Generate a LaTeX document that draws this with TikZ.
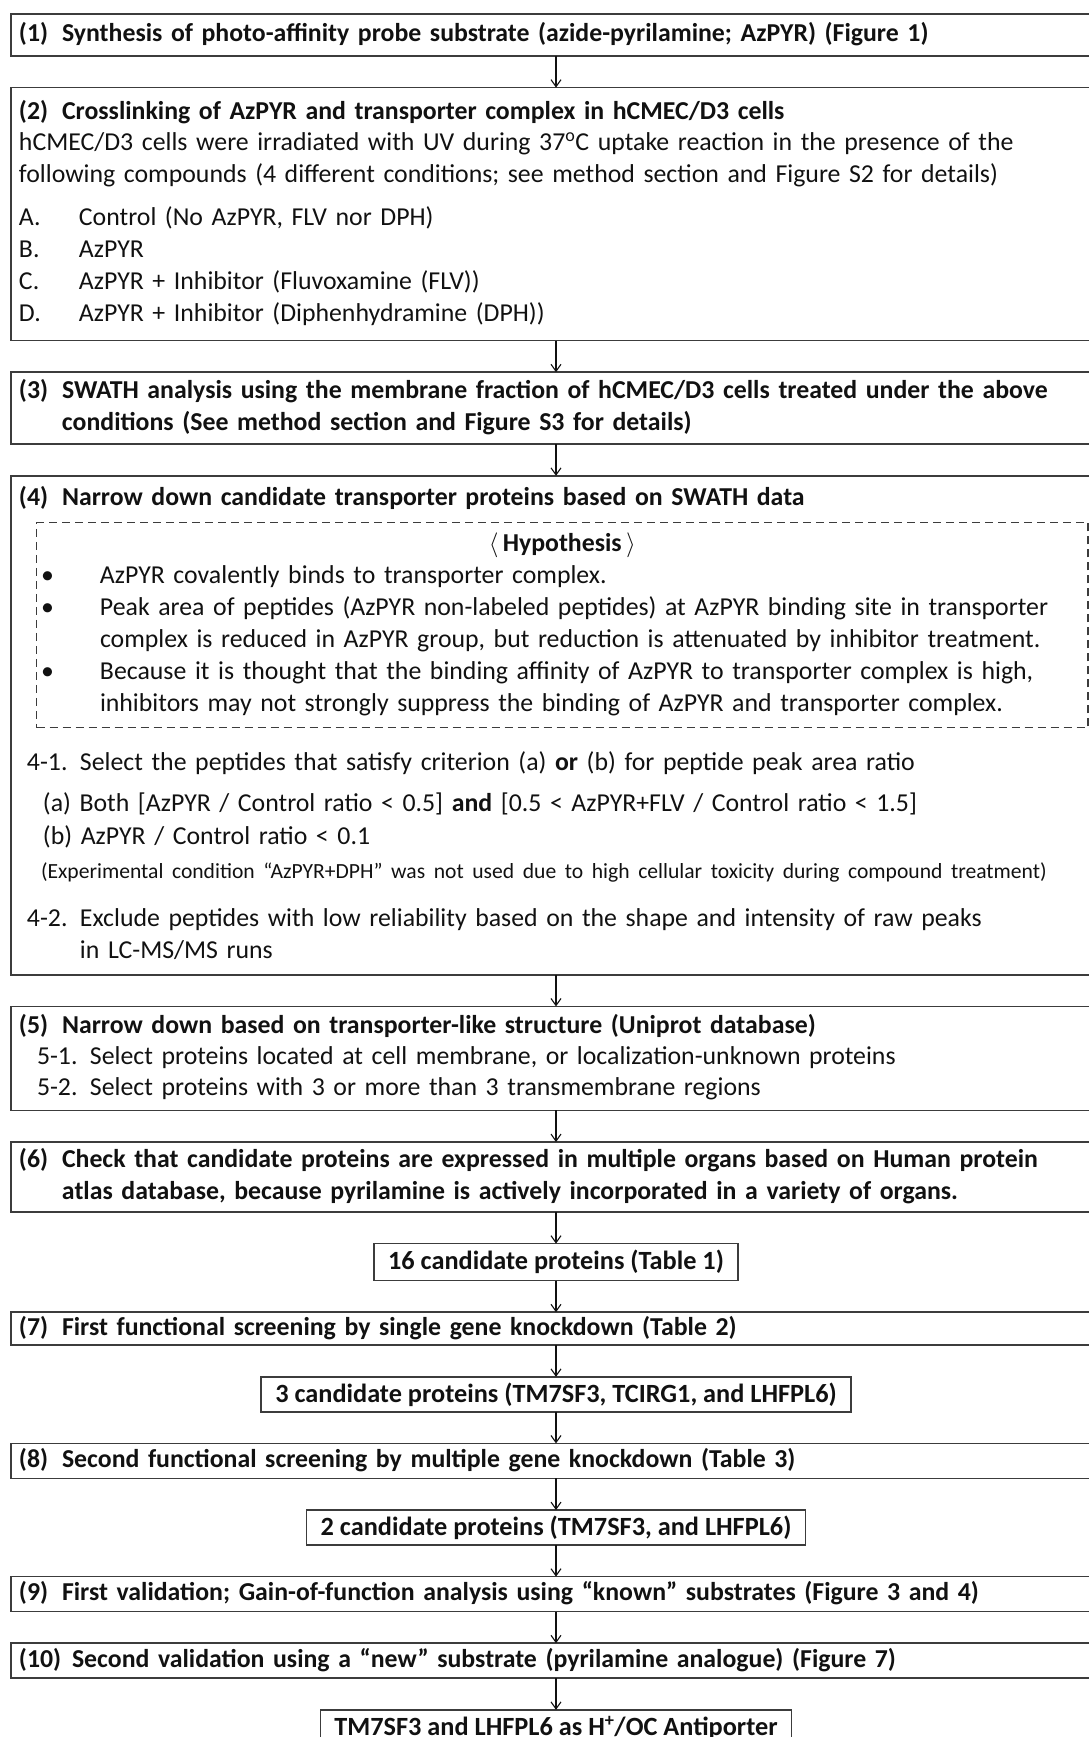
\documentclass[tikz,border=0pt]{standalone}
\usepackage{fontspec}
\setmainfont{Carlito}
\usetikzlibrary{arrows.meta,positioning}
\definecolor{framegray}{HTML}{3C3C3C}
\definecolor{inkblack}{HTML}{111111}
\newcommand{\stepno}[1]{\makebox[43pt][l]{#1}}
\newcommand{\subno}[3]{\hspace*{#1}\makebox[#2][l]{#3}}

\begin{document}
\begin{tikzpicture}[
  node distance=31.6pt,
  wide/.style={draw=framegray,line width=1.6pt,outer sep=0pt,
    minimum width=1090pt,text width=1074pt,inner xsep=8pt,inner ysep=0pt,
    align=left,text=inkblack,font=\fontsize{25.8}{32}\selectfont,
    execute at begin node=\strut,execute at end node=\strut},
  narrow/.style={draw=framegray,line width=1.6pt,outer sep=0pt,
    inner xsep=14pt,inner ysep=0pt,align=center,text=inkblack,
    font=\bfseries\fontsize{26.3}{32}\selectfont},
  hypo/.style={draw=framegray,line width=1.1pt,dash pattern=on 8pt off 5pt,
    outer sep=0pt,minimum width=1051.5pt,text width=1042.5pt,
    inner xsep=4.5pt,inner ysep=0pt,align=left,text=inkblack,
    font=\fontsize{25.8}{32}\selectfont,
    execute at begin node=\strut,execute at end node=\strut},
  arrow/.style={-{Straight Barb[length=7pt,width=10pt]},line width=1.1pt,draw=inkblack}
]
\useasboundingbox (0,0) rectangle (1089pt,-1737pt);
\clip (0,0) rectangle (1089pt,-1737pt);

\node[wide,minimum height=42pt,anchor=north] (synth) at (556pt,-14pt)
  {\textbf{\stepno{(1)}Synthesis of photo-affinity probe substrate (azide-pyrilamine; AzPYR) (Figure 1)}};
\node[wide,minimum height=253pt,below=of synth] (cross)
  {\textbf{\stepno{(2)}Crosslinking of AzPYR and transporter complex in hCMEC/D3 cells}\\[-1pt]
   hCMEC/D3 cells were irradiated with UV during 37\textsuperscript{o}C uptake reaction in the presence of the\\
   following compounds (4 different conditions; see method section and Figure S2 for details)\\[11pt]
   \makebox[60pt][l]{A.}Control (No AzPYR, FLV nor DPH)\\
   \makebox[60pt][l]{B.}AzPYR\\
   \makebox[60pt][l]{C.}AzPYR + Inhibitor (Fluvoxamine (FLV))\\
   \makebox[60pt][l]{D.}AzPYR + Inhibitor (Diphenhydramine (DPH))};
\node[wide,minimum height=72pt,below=of cross] (swath)
  {\textbf{\stepno{(3)}SWATH analysis using the membrane fraction of hCMEC/D3 cells treated under the above}\\
   \textbf{\hspace*{43pt}conditions (See method section and Figure S3 for details)}};
\node[wide,minimum height=499pt,below=of swath] (narrow)
  {\textbf{\stepno{(4)}Narrow down candidate transporter proteins based on SWATH data}\\[232.6pt]
   \subno{8pt}{53pt}{4-1.}Select the peptides that satisfy criterion (a) \textbf{or} (b) for peptide peak area ratio\\[9pt]
   \hspace*{24pt}(a) Both [AzPYR / Control ratio < 0.5] \textbf{and} [0.5 < AzPYR+FLV / Control ratio < 1.5]\\[1pt]
   \hspace*{24pt}(b) AzPYR / Control ratio < 0.1\\[2.5pt]
   {\fontsize{21.6}{32}\selectfont\hspace*{22pt}(Experimental condition “AzPYR+DPH” was not used due to high cellular toxicity during compound treatment)}\\[15.5pt]
   \subno{8pt}{53pt}{4-2.}Exclude peptides with low reliability based on the shape and intensity of raw peaks\\
   \hspace*{61pt}in LC-MS/MS runs};
\node[hypo,minimum height=205pt,anchor=north west] (hyp) at ([xshift=25.5pt,yshift=-47pt]narrow.north west)
  {\hspace*{\fill}\textbf{$\langle$\,Hypothesis\,$\rangle$}\hspace*{\fill}\null\\
   \makebox[59pt][l]{•}AzPYR covalently binds to transporter complex.\\
   \makebox[59pt][l]{•}Peak area of peptides (AzPYR non-labeled peptides) at AzPYR binding site in transporter\\
   \hspace*{59pt}complex is reduced in AzPYR group, but reduction is attenuated by inhibitor treatment.\\
   \makebox[59pt][l]{•}Because it is thought that the binding affinity of AzPYR to transporter complex is high,\\
   \hspace*{59pt}inhibitors may not strongly suppress the binding of AzPYR and transporter complex.};
\node[wide,minimum height=104pt,below=of narrow] (uniprot)
  {\textbf{\stepno{(5)}Narrow down based on transporter-like structure (Uniprot database)}\\[-1pt]
   \subno{18pt}{53pt}{5-1.}Select proteins located at cell membrane, or localization-unknown proteins\\[-1pt]
   \subno{18pt}{53pt}{5-2.}Select proteins with 3 or more than 3 transmembrane regions};
\node[wide,minimum height=70pt,below=of uniprot] (atlas)
  {\textbf{\stepno{(6)}Check that candidate proteins are expressed in multiple organs based on Human protein}\\
   \textbf{\hspace*{43pt}atlas database, because pyrilamine is actively incorporated in a variety of organs.}};
\node[narrow,minimum height=37pt,below=of atlas] (cand16) {16 candidate proteins (Table 1)};
\node[wide,minimum height=33pt,below=of cand16] (single)
  {\textbf{\stepno{(7)}First functional screening by single gene knockdown (Table 2)}};
\node[narrow,minimum height=35pt,below=of single] (cand3) {3 candidate proteins (TM7SF3, TCIRG1, and LHFPL6)};
\node[wide,minimum height=35pt,below=of cand3] (multi)
  {\textbf{\stepno{(8)}Second functional screening by multiple gene knockdown (Table 3)}};
\node[narrow,minimum height=35pt,below=of multi] (cand2) {2 candidate proteins (TM7SF3, and LHFPL6)};
\node[wide,minimum height=35pt,below=of cand2] (known)
  {\textbf{\stepno{(9)}First validation; Gain-of-function analysis using “known” substrates (Figure 3 and 4)}};
\node[wide,minimum height=35pt,below=of known] (new)
  {\textbf{\makebox[53pt][l]{(10)}Second validation using a “new” substrate (pyrilamine analogue) (Figure 7)}};
\node[narrow,minimum height=37pt,below=of new] (result) {TM7SF3 and LHFPL6 as H\textsuperscript{+}/OC Antiporter};

\draw[arrow] (synth) -- (cross);
\draw[arrow] (cross) -- (swath);
\draw[arrow] (swath) -- (narrow);
\draw[arrow] (narrow) -- (uniprot);
\draw[arrow] (uniprot) -- (atlas);
\draw[arrow] (atlas) -- (cand16);
\draw[arrow] (cand16) -- (single);
\draw[arrow] (single) -- (cand3);
\draw[arrow] (cand3) -- (multi);
\draw[arrow] (multi) -- (cand2);
\draw[arrow] (cand2) -- (known);
\draw[arrow] (known) -- (new);
\draw[arrow] (new) -- (result);
\end{tikzpicture}
\end{document}
